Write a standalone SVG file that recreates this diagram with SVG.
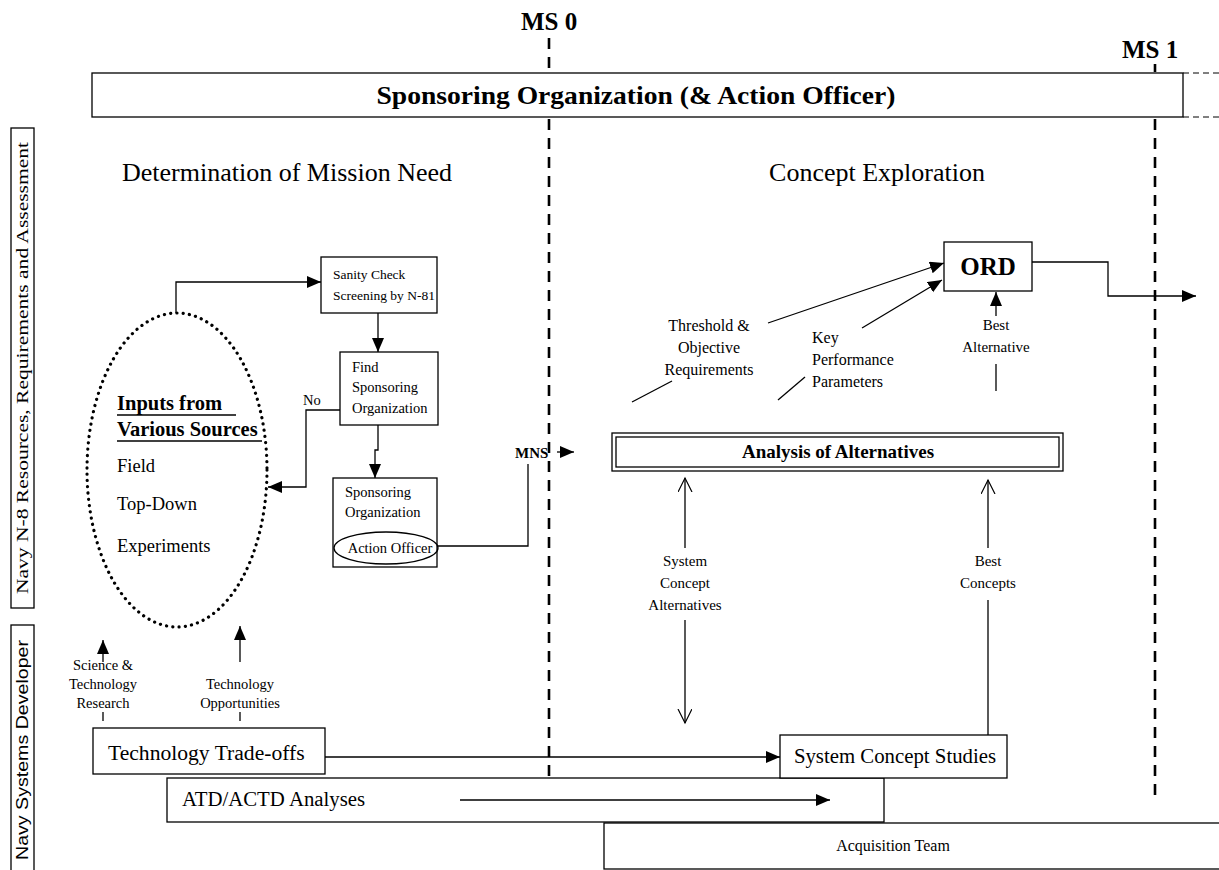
<svg xmlns="http://www.w3.org/2000/svg" width="1219" height="870" viewBox="0 0 1219 870">
<style>
.bx{fill:#fff;stroke:#000;stroke-width:1.3}
.ln{fill:none;stroke:#000;stroke-width:1.3}
.ms{fill:none;stroke:#000;stroke-width:2.6;stroke-dasharray:11 8}
.ex{fill:none;stroke:#000;stroke-width:1;stroke-dasharray:6 4}
.t{font-family:"Liberation Serif","Times New Roman",serif;fill:#000}
.b{font-weight:bold}
.s{font-family:"Liberation Sans",Arial,sans-serif;fill:#000}
.m{text-anchor:middle}
.lb{font-size:15px}
.lt{font-size:16px}
</style>
<defs>
<marker id="tri" markerUnits="userSpaceOnUse" markerWidth="16" markerHeight="14" refX="14" refY="6" orient="auto">
<path d="M0,0 L14,6 L0,12 Z" fill="#000"/>
</marker>
<marker id="open" markerUnits="userSpaceOnUse" markerWidth="16" markerHeight="16" refX="14" refY="7" orient="auto">
<path d="M0,0 L14,7 L0,14" fill="none" stroke="#000" stroke-width="1.2"/>
</marker>
</defs>

<g id="milestones">
<text class="t b m" x="549" y="30" font-size="25">MS 0</text>
<text class="t b m" x="1150" y="58" font-size="25">MS 1</text>
<path class="ms" d="M549,38 V72 M549,119 V808"/>
<path class="ms" d="M1155,64 V72 M1155,119 V800"/>
</g>

<g id="sponsoring-org">
<rect class="bx" x="92" y="73" width="1091" height="44"/>
<path class="ex" d="M1183,73 H1219 M1183,117 H1219"/>
<text class="t b m" x="636" y="104" font-size="25" textLength="519" lengthAdjust="spacingAndGlyphs">Sponsoring Organization (&amp; Action Officer)</text>
</g>

<g id="lane-n8">
<rect class="bx" x="11" y="128" width="23" height="480"/>
<text class="t m" transform="translate(28,368) rotate(-90)" font-size="17" textLength="452" lengthAdjust="spacingAndGlyphs">Navy N-8 Resources, Requirements and Assessment</text>
</g>

<g id="lane-developer">
<rect class="bx" x="11" y="625" width="23" height="250"/>
<text class="s m" transform="translate(28,750) rotate(-90)" font-size="17" textLength="220" lengthAdjust="spacingAndGlyphs">Navy Systems Developer</text>
</g>

<g id="headings">
<text class="t m" x="287" y="181" font-size="26">Determination of Mission Need</text>
<text class="t m" x="877" y="181" font-size="26">Concept Exploration</text>
</g>

<g id="inputs">
<ellipse cx="177" cy="470" rx="90" ry="157" fill="none" stroke="#000" stroke-width="3.2" stroke-dasharray="0.1 6.2" stroke-linecap="round"/>
<text class="t b" x="117" y="410" font-size="20.5">Inputs from</text>
<line class="ln" x1="117" y1="415" x2="236" y2="415"/>
<text class="t b" x="117" y="436" font-size="20.5">Various Sources</text>
<line class="ln" x1="117" y1="441" x2="262" y2="441"/>
<text class="t" x="117" y="472" font-size="18.5">Field</text>
<text class="t" x="117" y="510" font-size="18.5">Top-Down</text>
<text class="t" x="117" y="552" font-size="18.5">Experiments</text>
</g>

<g id="sanity-check">
<rect class="bx" x="321" y="257" width="116" height="56"/>
<text class="t" x="333" y="279" font-size="13.5">Sanity Check</text>
<text class="t" x="333" y="300" font-size="13.5">Screening by N-81</text>
</g>

<g id="find-sponsor">
<rect class="bx" x="340" y="352" width="98" height="73"/>
<text class="t" x="352" y="372" font-size="14.5">Find</text>
<text class="t" x="352" y="392" font-size="14.5">Sponsoring</text>
<text class="t" x="352" y="413" font-size="14.5">Organization</text>
</g>

<g id="sponsoring-officer">
<rect class="bx" x="333" y="478" width="104" height="89"/>
<text class="t" x="345" y="497" font-size="14.5">Sponsoring</text>
<text class="t" x="345" y="517" font-size="14.5">Organization</text>
<ellipse cx="386" cy="548" rx="52" ry="16" class="ln"/>
<text class="t m" x="390" y="553" font-size="14.5">Action Officer</text>
</g>

<g id="aoa">
<rect class="bx" x="612" y="433" width="451" height="38"/>
<rect class="ln" x="616" y="437" width="443" height="30"/>
<text class="t b m" x="838" y="458" font-size="19">Analysis of Alternatives</text>
</g>

<g id="ord">
<rect class="bx" x="944" y="242" width="88" height="49"/>
<text class="t b m" x="988" y="275" font-size="25">ORD</text>
</g>

<g id="tech-tradeoffs">
<rect class="bx" x="93" y="728" width="232" height="46"/>
<text class="t" x="108" y="760" font-size="21.6">Technology Trade-offs</text>
</g>

<g id="atd-actd">
<rect class="bx" x="167" y="778" width="717" height="44"/>
<text class="t" x="182" y="806" font-size="20.8">ATD/ACTD Analyses</text>
</g>

<g id="system-concept-studies">
<rect class="bx" x="780" y="735" width="227" height="43"/>
<text class="t m" x="895" y="763" font-size="20.8">System Concept Studies</text>
</g>

<g id="acquisition-team">
<rect class="bx" x="604" y="823" width="620" height="46"/>
<text class="t m" x="893" y="851" font-size="16">Acquisition Team</text>
</g>

<g id="labels">
<text class="t" x="303" y="405" font-size="14.5">No</text>
<text class="t b" x="515" y="458" font-size="15">MNS</text>
<text class="t m lt" x="709" y="331">Threshold &amp;</text>
<text class="t m lt" x="709" y="353">Objective</text>
<text class="t m lt" x="709" y="375">Requirements</text>
<text class="t lt" x="812" y="343">Key</text>
<text class="t lt" x="812" y="365">Performance</text>
<text class="t lt" x="812" y="387">Parameters</text>
<text class="t m lb" x="996" y="330">Best</text>
<text class="t m lb" x="996" y="352">Alternative</text>
<text class="t m lb" x="685" y="566">System</text>
<text class="t m lb" x="685" y="588">Concept</text>
<text class="t m lb" x="685" y="610">Alternatives</text>
<text class="t m lb" x="988" y="566">Best</text>
<text class="t m lb" x="988" y="588">Concepts</text>
<text class="t m" x="103" y="670" font-size="14.5">Science &amp;</text>
<text class="t m" x="103" y="689" font-size="14.5">Technology</text>
<text class="t m" x="103" y="708" font-size="14.5">Research</text>
<text class="t m" x="240" y="689" font-size="14.5">Technology</text>
<text class="t m" x="240" y="708" font-size="14.5">Opportunities</text>
</g>

<g id="connectors">
<path class="ln" d="M176,313 V282 H321" marker-end="url(#tri)"/>
<path class="ln" d="M378,313 V352" marker-end="url(#tri)"/>
<path class="ln" d="M378,425 V450 H375 V478" marker-end="url(#tri)"/>
<path class="ln" d="M340,410 H306 V487 H268" marker-end="url(#tri)"/>
<path class="ln" d="M438,546 H528 V464"/>
<path class="ln" d="M557,452 H574" marker-end="url(#tri)"/>
<path class="ln" d="M1032,262 H1108 V296 H1196" marker-end="url(#tri)"/>
<path class="ln" d="M632,402 L672,381"/>
<path class="ln" d="M768,323 L944,263" marker-end="url(#tri)"/>
<path class="ln" d="M778,400 L805,377"/>
<path class="ln" d="M862,328 L942,280" marker-end="url(#tri)"/>
<path class="ln" d="M996,391 V364"/>
<path class="ln" d="M996,316 V292" marker-end="url(#tri)"/>
<path class="ln" d="M685,548 V478" marker-end="url(#open)"/>
<path class="ln" d="M685,620 V723" marker-end="url(#open)"/>
<path class="ln" d="M988,548 V480" marker-end="url(#open)"/>
<path class="ln" d="M988,600 V735"/>
<path class="ln" d="M325,757 H780" marker-end="url(#tri)"/>
<path class="ln" d="M460,800 H830" marker-end="url(#tri)"/>
<path class="ln" d="M103,662 V640" marker-end="url(#tri)"/>
<path class="ln" d="M103,712 V721"/>
<path class="ln" d="M240,662 V626" marker-end="url(#tri)"/>
<path class="ln" d="M240,712 V721"/>
</g>
</svg>
